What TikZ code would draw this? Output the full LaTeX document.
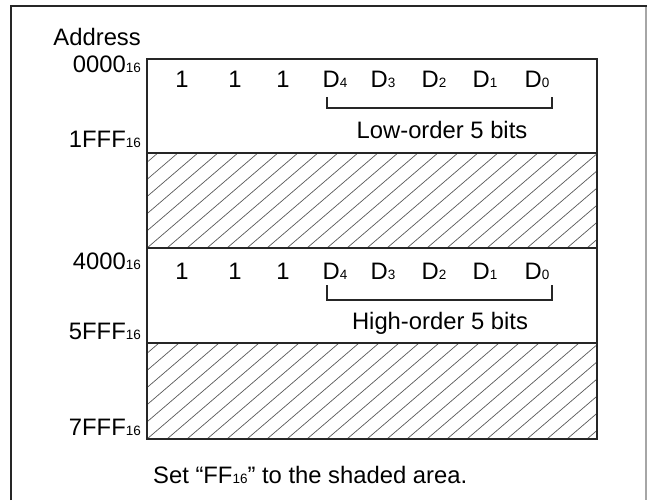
\documentclass[tikz,border=0pt]{standalone}
\usepackage{fontspec}
\setmainfont{Liberation Sans}
\usetikzlibrary{calc,positioning}
\newcommand{\smallsub}[1]{{\fontsize{13.5}{14}\selectfont #1}}

\begin{document}
\begin{tikzpicture}[x=1pt,y=-1pt]
\tikzset{lbl/.style={inner sep=0pt, font=\fontsize{23.8}{28}\selectfont},
  addr/.style={lbl, anchor=base east},
  bit/.style={lbl, anchor=base},
  boxline/.style={line width=1.6pt, black!85},
  hatch/.style={line width=0.7pt, black!65},
  bracket/.style={line width=1.4pt, black!85}}
\useasboundingbox (0,0) rectangle (647,500);

% outer frame
\draw[line width=2pt, black!85] (11,500) -- (11,6) -- (647,6);
\draw[line width=1.2pt, black!35] (646,7) -- (646,500);

% shaded areas
\foreach \t/\b in {153/248, 343/439}{
  \begin{scope}
    \clip (147,\t) rectangle (597,\b);
    \foreach \i in {0,...,30}
      \draw[hatch] ({27+20*\i},\b) -- ++(140,-120);
  \end{scope}
}

% memory map
\draw[boxline] (147,59) rectangle (597,439);
\foreach \y in {153,248,343}
  \draw[boxline] (147,\y) -- (597,\y);

% addresses
\node[addr] (addr) at (141,46) {Address};
\node[addr] (a0000) at (141,73) {0000\smallsub{16}};
\node[addr] (a1fff) at (141,147) {1FFF\smallsub{16}};
\node[addr] (a4000) at (141,269) {4000\smallsub{16}};
\node[addr] (a5fff) at (141,339) {5FFF\smallsub{16}};
\node[addr] (a7fff) at (141,435) {7FFF\smallsub{16}};

% data bits
\foreach \r/\y/\bt/\bb in {lo/88/97/108, hi/279/285/300}{
  \foreach \x [count=\k] in {182,235,283}
    \node[bit] (one\r\k) at (\x,\y) {1};
  \foreach \x/\n in {335/4, 383/3, 434/2, 485/1, 537/0}
    \node[bit] (d\r\n) at (\x,\y) {D\smallsub{\n}};
  \draw[bracket] (327,\bt) -- (327,\bb) -- (552,\bb) -- (552,\bt);
}
\node[bit] (low) at (442,139) {Low-order 5 bits};
\node[bit] (high) at (440,329) {High-order 5 bits};

\node[lbl, anchor=base west] (note) at (153,483) {Set “FF\smallsub{16}” to the shaded area.};
\end{tikzpicture}
\end{document}
